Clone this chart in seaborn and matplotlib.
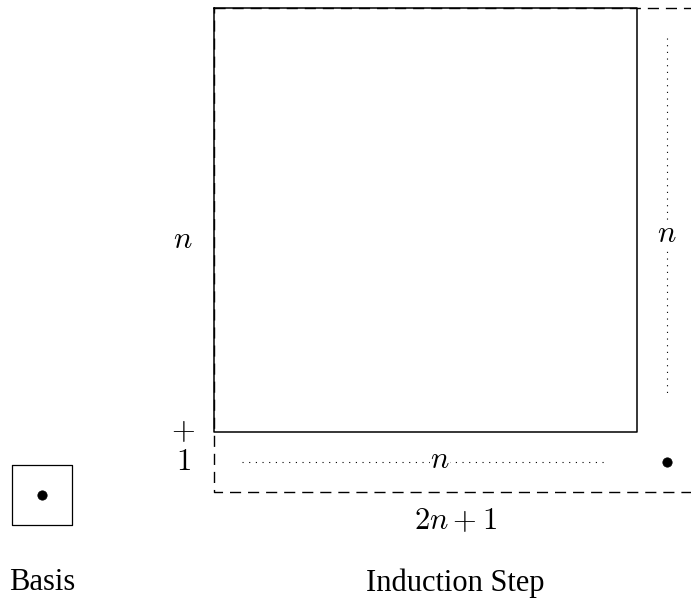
import matplotlib
matplotlib.use("Agg")
import matplotlib.pyplot as plt
import seaborn as sns
import pandas as pd

# Diagram geometry (pixel units, y grows downward)
square_x = [214, 637, 637, 214, 214]
square_y = [8, 8, 432, 432, 8]
outer_x = [214, 698, 698, 214, 214]
outer_y = [8, 8, 492, 492, 8]
vdot_x = [667, 667]
vdot_y = [38, 398]
hdot_x = [242, 605]
hdot_y = [462, 462]
basis_x = [12, 72, 72, 12, 12]
basis_y = [465, 465, 525, 525, 465]
dots_x = [667, 42]
dots_y = [462, 495]

sns.set_theme(style="white")
plt.rcParams['mathtext.fontset'] = 'cm'
plt.rcParams['font.family'] = ['Liberation Serif', 'DejaVu Serif']
plt.rcParams['text.color'] = 'black'

fig = plt.figure(figsize=(6.91, 6.03), dpi=100)
ax = fig.add_axes([0, 0, 1, 1])
ax.set_xlim(0, 691)
ax.set_ylim(603, 0)
ax.axis("off")


def seg(xs, ys, **kw):
    df = pd.DataFrame({"x": xs, "y": ys})
    sns.lineplot(data=df, x="x", y="y", sort=False, estimator=None,
                 ax=ax, color="black", **kw)


seg(outer_x, outer_y, lw=1.0, linestyle=(0, (8, 5)))
seg(square_x, square_y, lw=1.1)
seg(vdot_x, vdot_y, lw=0.8, linestyle=(0, (1, 5)))
seg(hdot_x, hdot_y, lw=0.8, linestyle=(0, (1, 5)))
seg(basis_x, basis_y, lw=0.9)

sns.scatterplot(x=dots_x, y=dots_y, ax=ax, color="black", s=45,
                edgecolor="black", zorder=5)

fs = 22
box = dict(facecolor="white", edgecolor="none", pad=0.5)
ax.text(183, 240, "$n$", fontsize=fs, ha="center", va="center", color="black")
ax.text(667, 235, "$n$", fontsize=fs, ha="center", va="center", color="black", bbox=box)
ax.text(440, 460, "$n$", fontsize=fs, ha="center", va="center", color="black", bbox=box)
ax.text(183, 432, "$+$", fontsize=fs, ha="center", va="center", color="black")
ax.text(183, 462, "$1$", fontsize=fs, ha="center", va="center", color="black")
ax.text(455, 522, "$2n+1$", fontsize=fs, ha="center", va="center", color="black")
ax.text(42, 583, "Basis", fontsize=fs, ha="center", va="center", color="black")
ax.text(455, 583, "Induction Step", fontsize=fs, ha="center", va="center", color="black")

fig.savefig("out.png", dpi=100)
